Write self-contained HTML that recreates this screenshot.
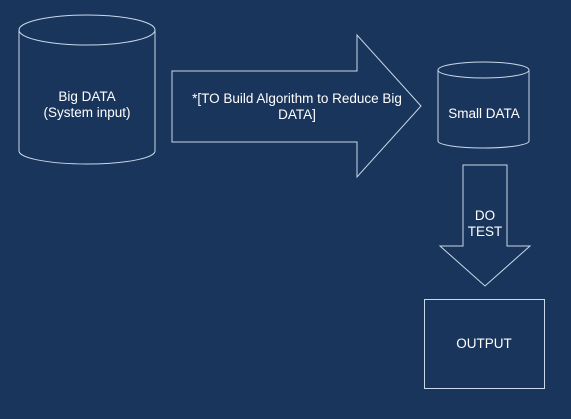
<!DOCTYPE html>
<html><head><style>
html,body{margin:0;padding:0;background:#1a355b;}
svg{display:block}
text{font-family:"Liberation Sans",sans-serif;fill:#fff;font-size:13.5px;text-anchor:middle}
</style></head><body>
<svg width="571" height="419" xmlns="http://www.w3.org/2000/svg">
<rect width="571" height="419" fill="#1a355b"/>
<g fill="none" stroke="#c9d8ea" stroke-width="1">
<path d="M19,30 L19,151 A68,13 0 0 0 155,151 L155,30"/>
<ellipse cx="87" cy="30" rx="68" ry="15"/>
<polygon points="172,71 357,71 357,35 421,106 357,177 357,142 172,142"/>
<path d="M438,70 L438,141 A45.5,7 0 0 0 529,141 L529,70"/>
<ellipse cx="483.5" cy="70" rx="45.5" ry="8"/>
<polygon points="463,165 507,165 507,246 530,246 485,286 440,246 463,246"/>
<rect x="424.5" y="299.5" width="120" height="89"/>
</g>
<text x="87" y="101">Big DATA</text>
<text x="87" y="117">(System input)</text>
<text x="297" y="103">*[TO Build Algorithm to Reduce Big</text>
<text x="297" y="119">DATA]</text>
<text x="484" y="118">Small DATA</text>
<text x="485" y="220">DO</text>
<text x="485" y="236">TEST</text>
<text x="484" y="348">OUTPUT</text>
</svg>
</body></html>
